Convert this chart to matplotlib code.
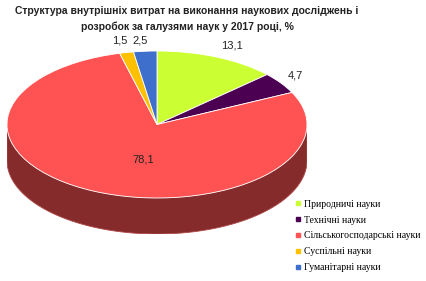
import numpy as np
import matplotlib
matplotlib.use("Agg")
from matplotlib import pyplot as plt
from matplotlib.patches import Polygon
from matplotlib.lines import Line2D
from matplotlib.colors import to_rgb

title = "Структура внутрішніх витрат на виконання наукових досліджень і\nрозробок за галузями наук у 2017 році, %"
categories = ["Природничі науки", "Технічні науки", "Сільськогосподарські науки",
              "Суспільні науки", "Гуманітарні науки"]
values = [13.1, 4.7, 78.1, 1.5, 2.5]
labels = ["13,1", "4,7", "78,1", "1,5", "2,5"]
colors = ["#CCFF33", "#4B0052", "#FF5353", "#FFC000", "#3F6FCC"]

W, H = 426, 281
depth = 0.49  # thickness of the disc, in units of the vertical radius


def darker(c, f=0.52):
    r, g, b = to_rgb(c)
    return (r * f, g * f, b * f)


fig = plt.figure(figsize=(W / 100, H / 100), dpi=100)
# ellipse box: x 7..307, y 51..198 (pixels, from top); side goes down to 234
ax = fig.add_axes([7 / W, (H - 234) / H, 300 / W, (234 - 51) / H])

wedges, texts = ax.pie(values, labels=labels, colors=colors, startangle=90,
                       counterclock=False, labeldistance=1.17,
                       wedgeprops=dict(edgecolor="white", linewidth=0.6),
                       textprops=dict(fontsize=8, family=["Liberation Sans", "DejaVu Sans"],
                                      color="#222222"))
ax.set_aspect("auto")
ax.set_xlim(-1, 1)
ax.set_ylim(-1 - depth, 1)
ax.axis("off")

# side of the cylinder, only the front half is visible
for w in wedges:
    t1, t2 = w.theta1, w.theta2
    segs = []
    for off in (0, 360, -360):
        a, b = max(t1 + off, 180), min(t2 + off, 360)
        if b > a:
            segs.append((a, b))
    for a, b in segs:
        t = np.radians(np.linspace(a, b, 100))
        top = np.column_stack([np.cos(t), np.sin(t)])
        bot = np.column_stack([np.cos(t), np.sin(t) - depth])[::-1]
        ax.add_patch(Polygon(np.vstack([top, bot]), closed=True,
                             facecolor=darker(w.get_facecolor()),
                             edgecolor="#B04848", linewidth=0.6, zorder=0))

for txt in texts:
    txt.set_ha("center")
    txt.set_va("center")
# big slice label sits on the top face
texts[2].set_position((-0.09, -0.47))
texts[0].set_position((0.5, 1.08))
texts[1].set_position((0.92, 0.67))
texts[3].set_position((-0.25, 1.14))
texts[4].set_position((-0.11, 1.14))

fig.text(187 / W, 1 - 19 / H, title, ha="center", va="center", fontsize=7.5,
         fontweight="bold", linespacing=1.65,
         family=["Liberation Sans", "DejaVu Sans"], color="#222222")

handles = [Line2D([], [], marker="s", linestyle="none", markersize=3.5,
                  markerfacecolor=c, markeredgecolor=c) for c in colors]
fig.legend(handles, categories, loc="upper left", bbox_to_anchor=(290 / W, 1 - 195 / H),
           frameon=False, handlelength=0.6, handletextpad=0.3, labelspacing=0.7,
           borderpad=0, prop=dict(family=["Liberation Serif", "DejaVu Serif"], size=7))

fig.savefig("out.png", dpi=100)
